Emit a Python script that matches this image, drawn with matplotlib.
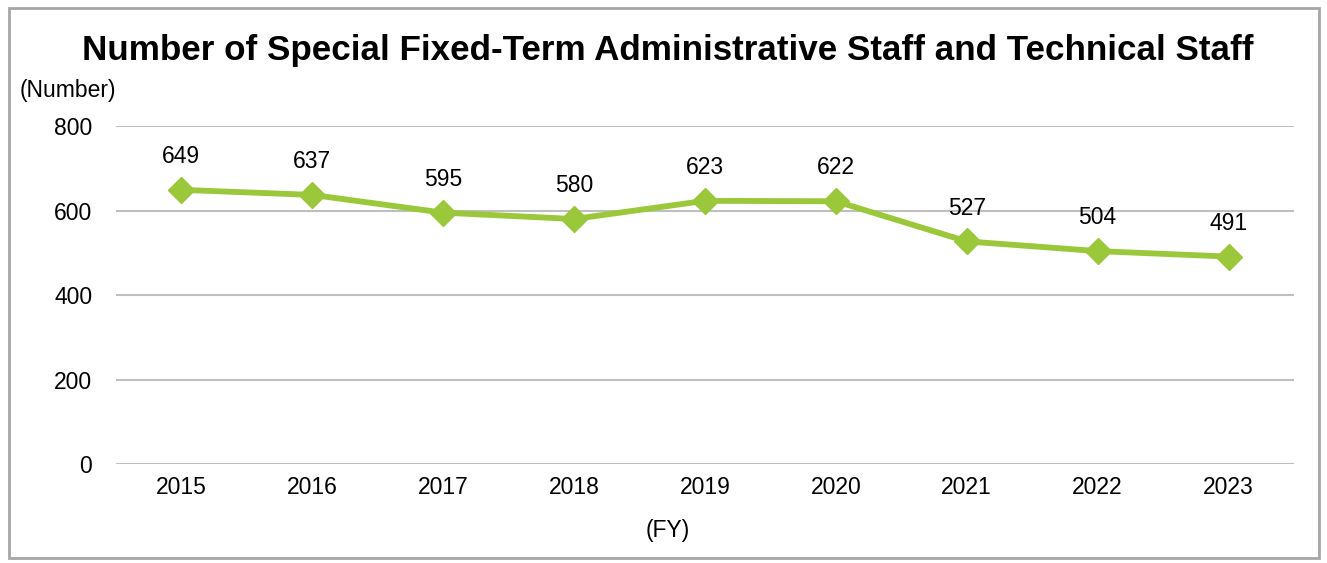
import matplotlib.pyplot as plt
from matplotlib.patches import Rectangle

plt.rcParams['font.family'] = ['Liberation Sans', 'DejaVu Sans']

years = ['2015', '2016', '2017', '2018', '2019', '2020', '2021', '2022', '2023']
staff = [649, 637, 595, 580, 623, 622, 527, 504, 491]
yticks = [0, 200, 400, 600, 800]

fig = plt.figure(figsize=(13.27, 5.63), dpi=100)
ax = fig.add_axes([0.0874, 0.1758, 0.8877, 0.6003])

x = list(range(len(years)))
ax.plot(x, staff, color='#9BC83A', lw=4.2, marker='D', markersize=13, zorder=3)
for xi, v in zip(x, staff):
    ax.annotate(str(v), (xi, v), xytext=(0, 24), textcoords='offset points',
                ha='center', va='center', fontsize=16.5)

ax.set_xlim(-0.5, len(years) - 0.5)
ax.set_ylim(0, 800)
ax.set_yticks(yticks)
ax.set_xticks(x, labels=years)
ax.tick_params(length=0, labelsize=16.5)
ax.tick_params(axis='y', pad=17)
ax.tick_params(axis='x', pad=8.5)
ax.grid(axis='y', color='#BFBFBF', lw=1.5)
ax.set_axisbelow(True)
for s in ax.spines.values():
    s.set_visible(False)

fig.text(0.503, 0.911, 'Number of Special Fixed-Term Administrative Staff and Technical Staff',
         ha='center', va='center', fontsize=25.2, fontweight='bold')
fig.text(0.015, 0.84, '(Number)', ha='left', va='center', fontsize=16.5)
fig.text(0.503, 0.058, '(FY)', ha='center', va='center', fontsize=16.5)

fig.add_artist(Rectangle((0.007, 0.009), 0.987, 0.976, transform=fig.transFigure,
                         fill=False, edgecolor='#A6A6A6', lw=2))

fig.savefig('out.png', dpi=100)
